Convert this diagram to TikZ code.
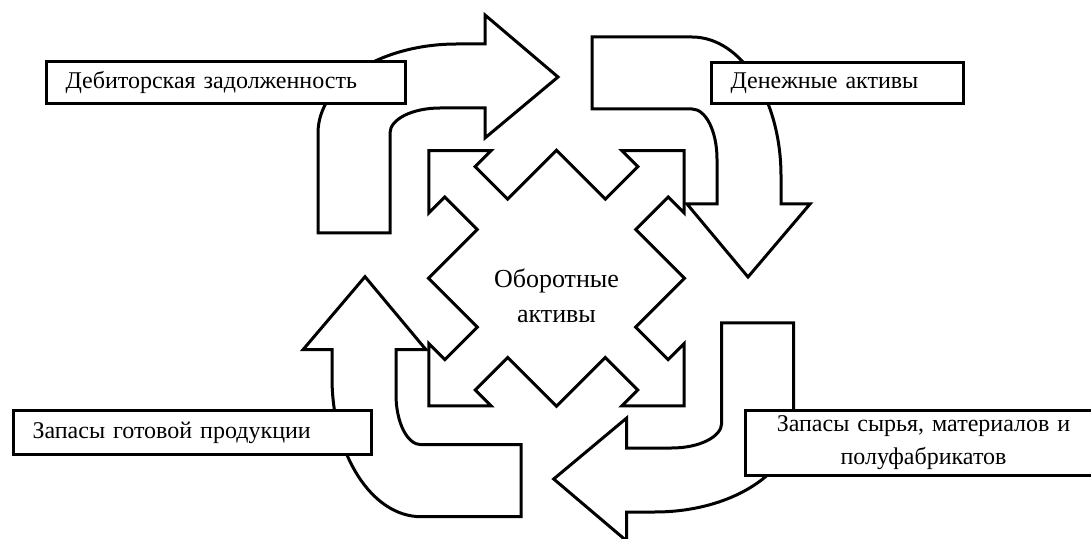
\documentclass[tikz,border=0pt]{standalone}
\usepackage{fontspec}
\setmainfont{Liberation Serif}

\tikzset{
	shapeline/.style={draw, line width=3pt, fill=white, line join=miter},
	textbox/.style={draw, line width=3pt, fill=white, inner xsep=19pt, inner ysep=0pt,
		font=\fontsize{24}{33}\selectfont, anchor=north west},
	bentarrow/.pic={
		\draw[shapeline] (0,0) -- (72,0) -- (72,100)
			arc[start angle=180, end angle=90, x radius=50pt, y radius=25pt]
			-- (167,125) -- (167,95) -- (240,156) -- (167,218) -- (167,189) -- (139,189)
			arc[start angle=90, end angle=180, x radius=139pt, y radius=89pt] -- cycle;
	}
}

\begin{document}
\begin{tikzpicture}[x=1pt, y=1pt]
		\useasboundingbox (0,0) rectangle (1091,538);
		% Central shape
		\draw[shapeline, shift={(556.5,259.7)}, rotate=45]
			(90.5,-90.5) -- (90.5,-21.5) -- (136.5,-21.5) -- (136.5,-44) -- (180.5,0) -- (136.5,44) -- (136.5,21.5) -- (90.5,21.5)
			-- (90.5,90.5) -- (21.5,90.5) -- (21.5,136.5) -- (44,136.5) -- (0,180.5) -- (-44,136.5) -- (-21.5,136.5) -- (-21.5,90.5)
			-- (-90.5,90.5) -- (-90.5,21.5) -- (-136.5,21.5) -- (-136.5,44) -- (-180.5,0) -- (-136.5,-44) -- (-136.5,-21.5) -- (-90.5,-21.5)
			-- (-90.5,-90.5) -- (-21.5,-90.5) -- (-21.5,-136.5) -- (-44,-136.5) -- (0,-180.5) -- (44,-136.5) -- (21.5,-136.5) -- (21.5,-90.5)
			-- cycle;
		\node[align=center, font=\fontsize{26}{35}\selectfont] (assets) at (556.5,242) {Оборотные\\активы};
		
		% Bent arrows
		\pic at (318,305) {bentarrow};
		\pic[rotate=-90] at (592,501) {bentarrow};
		\pic[rotate=180] at (793.7,215) {bentarrow};
		\pic[rotate=90] at (521,21.3) {bentarrow};
		
		% Text boxes
		\node[textbox, text width=321pt, minimum height=42pt, align=left] (debt) at (45,478) {Дебиторская задолженность};
		\node[textbox, text width=214pt, minimum height=41pt, align=left] (cash) at (710,477) {Денежные активы};
		\node[textbox, text width=320pt, minimum height=44pt, align=left] (goods) at (12,129) {Запасы готовой продукции};
		\node[textbox, text width=318pt, minimum height=65pt, align=center] (stock) at (744,129) {Запасы сырья, материалов и\\полуфабрикатов};
	\end{tikzpicture}
\end{document}
